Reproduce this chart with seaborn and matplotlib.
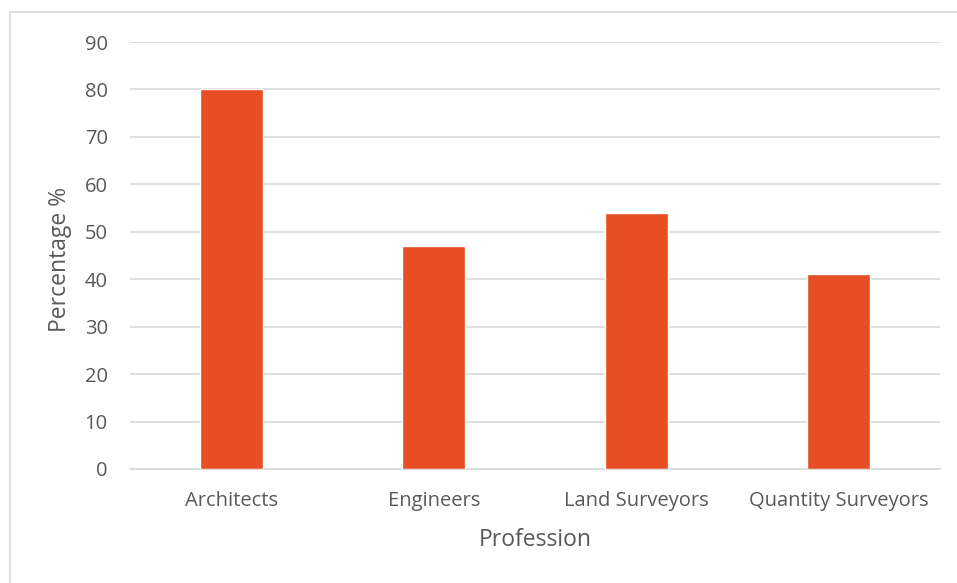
import matplotlib
matplotlib.use("Agg")
import matplotlib.pyplot as plt
from matplotlib.lines import Line2D
import seaborn as sns
import pandas as pd

professions = ["Architects", "Engineers", "Land Surveyors", "Quantity Surveyors"]
percentages = [80, 47, 54, 41]
y_ticks = [0, 10, 20, 30, 40, 50, 60, 70, 80, 90]

df = pd.DataFrame({"Profession": professions, "Percentage": percentages})

sns.set_theme(style="white")
plt.rcParams["font.family"] = ["Open Sans", "DejaVu Sans"]

W, H = 957, 583
fig = plt.figure(figsize=(W / 100, H / 100), dpi=100)
ax = fig.add_axes([130 / W, 1 - 469 / H, 810 / W, 427 / H])

sns.barplot(data=df, x="Profession", y="Percentage", color="#E84E23",
            saturation=1, width=0.31, ax=ax, zorder=3)

ax.set_ylim(0, 90)
ax.set_yticks(y_ticks)
ax.set_xlim(-0.5, len(professions) - 0.5)
ax.yaxis.grid(True, color="#D9D9D9", linewidth=1.2, zorder=0)
ax.set_axisbelow(True)
for side in ["top", "right", "left"]:
    ax.spines[side].set_visible(False)
ax.spines["bottom"].set_color("#D9D9D9")
ax.spines["bottom"].set_linewidth(1.2)
ax.tick_params(axis="both", length=0, labelsize=14.5, colors="#595959")
ax.tick_params(axis="y", pad=16)
ax.tick_params(axis="x", pad=16)
ax.set_xlabel("Profession", fontsize=16.5, color="#595959")
ax.set_ylabel("Percentage %", fontsize=16.5, color="#595959")
ax.xaxis.set_label_coords((535 - 130) / 810, -(540 - 469) / 427)
ax.yaxis.set_label_coords(-(130 - 60) / 810, (469 - 259) / 427)
ax.xaxis.label.set_va("center")
ax.yaxis.label.set_va("center")

# Light frame around the chart area
fig.add_artist(Line2D([10 / W, 10 / W], [0, 1 - 12 / H], color="#D9D9D9", linewidth=1.2))
fig.add_artist(Line2D([10 / W, 1], [1 - 12 / H, 1 - 12 / H], color="#D9D9D9", linewidth=1.2))

fig.savefig("out.png", dpi=100, facecolor="white")
